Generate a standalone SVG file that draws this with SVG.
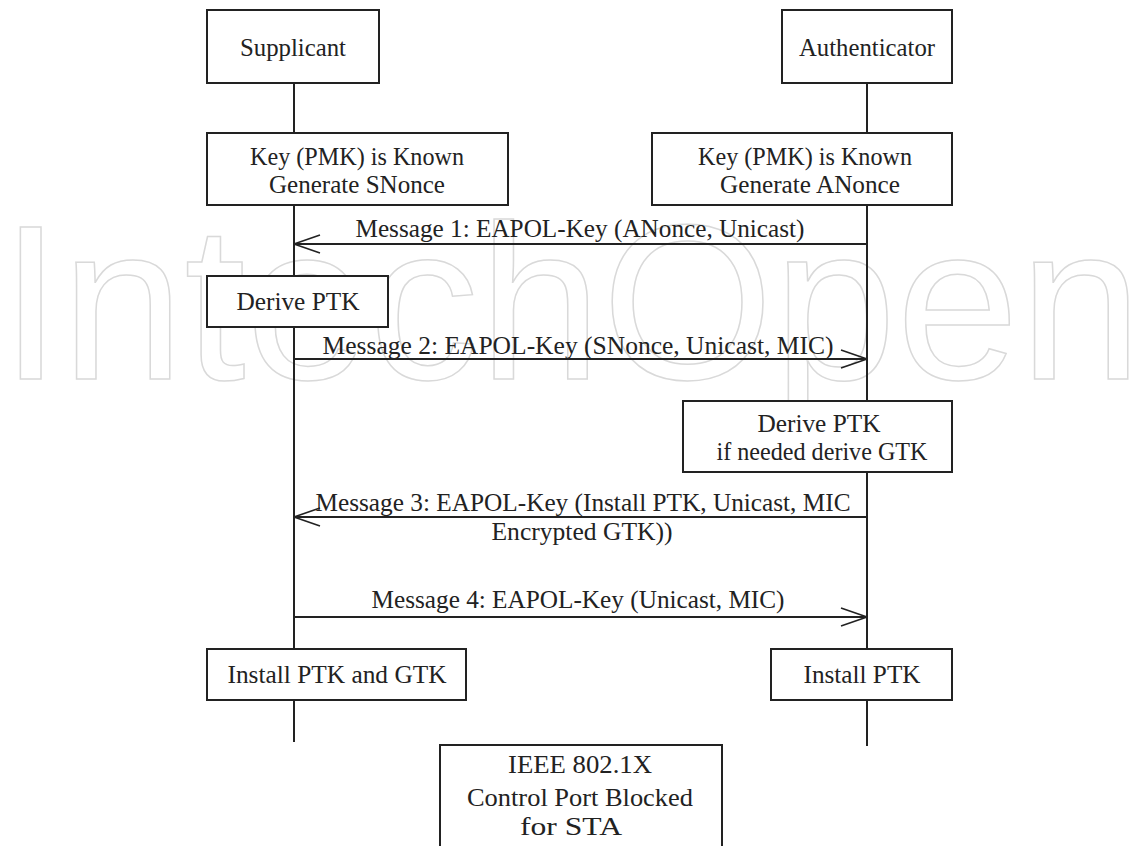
<svg xmlns="http://www.w3.org/2000/svg" width="1145" height="846" viewBox="0 0 1145 846">
<style>
.box{fill:#fff;stroke:#222;stroke-width:2}
.t{font-size:25px;fill:#222;text-anchor:middle}
.life{stroke:#222;stroke-width:2;fill:none}
.msg{stroke:#222;stroke-width:2;fill:none;marker-end:url(#arr)}
.wm{font-family:"Liberation Sans",Arial,sans-serif;font-size:220px;fill:none;stroke:#d9d9d9;stroke-width:1.5}
</style>
<defs>
<marker id="arr" markerUnits="userSpaceOnUse" viewBox="-1 -10 28 20" markerWidth="28" markerHeight="20" refX="26" refY="0" orient="auto">
<path d="M0,-9 L26,0 L0,9" fill="none" stroke="#222" stroke-width="1.6"/>
</marker>
</defs>
<rect width="1145" height="846" fill="#fff"/>
<text class="wm" x="0" y="379" textLength="1142" lengthAdjust="spacingAndGlyphs">IntechOpen</text>
<g font-family="'Liberation Serif', 'Times New Roman', serif">
<g id="connectors">
<line class="life" x1="294" y1="83" x2="294" y2="742"/>
<line class="life" x1="867" y1="83" x2="867" y2="746"/>
<line class="msg" x1="867" y1="244" x2="294" y2="244"/>
<line class="msg" x1="294" y1="359" x2="867" y2="359"/>
<line class="msg" x1="867" y1="517" x2="294" y2="517"/>
<line class="msg" x1="294" y1="617" x2="867" y2="617"/>
<text class="t" x="580" y="237" textLength="449" lengthAdjust="spacingAndGlyphs">Message 1: EAPOL-Key (ANonce, Unicast)</text>
<text class="t" x="578" y="354" textLength="511" lengthAdjust="spacingAndGlyphs">Message 2: EAPOL-Key (SNonce, Unicast, MIC)</text>
<text class="t" x="583" y="511" textLength="535" lengthAdjust="spacingAndGlyphs">Message 3: EAPOL-Key (Install PTK, Unicast, MIC</text>
<text class="t" x="582" y="540" textLength="181" lengthAdjust="spacingAndGlyphs">Encrypted GTK))</text>
<text class="t" x="578" y="608" textLength="413" lengthAdjust="spacingAndGlyphs">Message 4: EAPOL-Key (Unicast, MIC)</text>
</g>
<g id="supplicant">
<rect class="box" x="207" y="10" width="172" height="73"/>
<text class="t" x="293" y="56" textLength="106" lengthAdjust="spacingAndGlyphs">Supplicant</text>
</g>
<g id="authenticator">
<rect class="box" x="782" y="10" width="170" height="73"/>
<text class="t" x="867" y="56" textLength="136" lengthAdjust="spacingAndGlyphs">Authenticator</text>
</g>
<g id="key-supplicant">
<rect class="box" x="207" y="133" width="301" height="72"/>
<text class="t" x="357" y="165" textLength="214" lengthAdjust="spacingAndGlyphs">Key (PMK) is Known</text>
<text class="t" x="357" y="193" textLength="176" lengthAdjust="spacingAndGlyphs">Generate SNonce</text>
</g>
<g id="key-authenticator">
<rect class="box" x="652" y="133" width="300" height="72"/>
<text class="t" x="805" y="165" textLength="214" lengthAdjust="spacingAndGlyphs">Key (PMK) is Known</text>
<text class="t" x="810" y="193" textLength="180" lengthAdjust="spacingAndGlyphs">Generate ANonce</text>
</g>
<g id="derive-supplicant">
<rect class="box" x="207" y="276" width="181" height="51"/>
<text class="t" x="298" y="310" textLength="123" lengthAdjust="spacingAndGlyphs">Derive PTK</text>
</g>
<g id="derive-authenticator">
<rect class="box" x="683" y="401" width="269" height="71"/>
<text class="t" x="819" y="432" textLength="123" lengthAdjust="spacingAndGlyphs">Derive PTK</text>
<text class="t" x="822" y="460" textLength="211" lengthAdjust="spacingAndGlyphs">if needed derive GTK</text>
</g>
<g id="install-supplicant">
<rect class="box" x="207" y="649" width="259" height="51"/>
<text class="t" x="337" y="683" textLength="219" lengthAdjust="spacingAndGlyphs">Install PTK and GTK</text>
</g>
<g id="install-authenticator">
<rect class="box" x="771" y="649" width="181" height="51"/>
<text class="t" x="862" y="683" textLength="117" lengthAdjust="spacingAndGlyphs">Install PTK</text>
</g>
<g id="ieee">
<rect class="box" x="440" y="745" width="282" height="120"/>
<text class="t" x="580" y="773" textLength="144" lengthAdjust="spacingAndGlyphs">IEEE 802.1X</text>
<text class="t" x="580" y="806" textLength="226" lengthAdjust="spacingAndGlyphs">Control Port Blocked</text>
<text class="t" x="571" y="835" textLength="102" lengthAdjust="spacingAndGlyphs">for STA</text>
</g>
</g>
</svg>
